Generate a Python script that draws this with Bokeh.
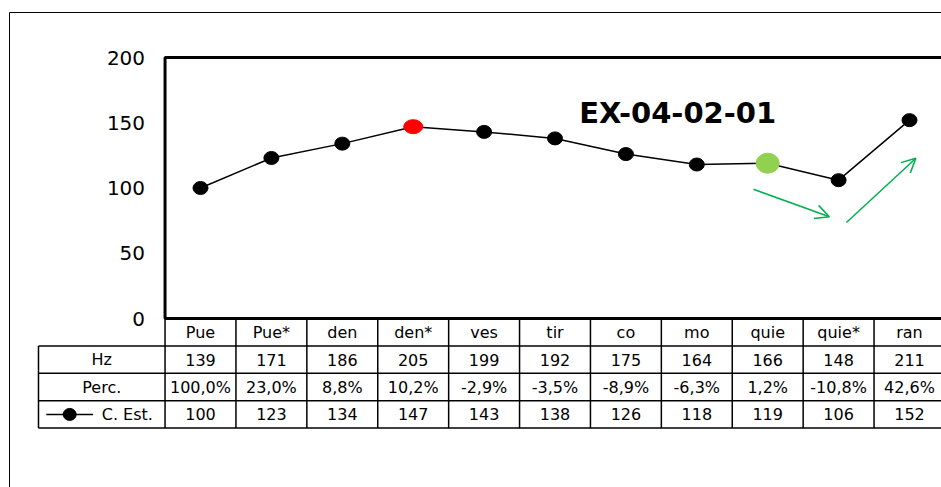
from bokeh.plotting import figure
from bokeh.models import Range1d, LinearAxis, FixedTicker, ColumnDataSource, Arrow, OpenHead
from bokeh.core.properties import value
from bokeh.embed import file_html
from bokeh.resources import INLINE

# ---------------- data ----------------
categories = ["Pue", "Pue*", "den", "den*", "ves", "tir", "co", "mo", "quie", "quie*", "ran"]
hz = [139, 171, 186, 205, 199, 192, 175, 164, 166, 148, 211]
perc = ["100,0%", "23,0%", "8,8%", "10,2%", "-2,9%", "-3,5%", "-8,9%", "-6,3%", "1,2%", "-10,8%", "42,6%"]
c_est = [100, 123, 134, 147, 143, 138, 126, 118, 119, 106, 152]
row_labels = ["Hz", "Perc.", "C. Est."]
y_ticks = [0, 50, 100, 150, 200]
title_text = "EX-04-02-01"
highlight_red = "den*"
highlight_green = "quie"
# trend arrows (start x, start y, end x, end y) in category/value units
arrow_down = (7.80, 99.0, 8.87, 78.0)
arrow_up = (9.11, 73.6, 10.09, 122.8)

# ---------------- layout ----------------
W, H = 941, 487
px_cat = 70.9          # px per category
px_val = 1.305         # px per value unit
first_center_px = 200  # frame x of first category center
zero_px = 318          # frame y of value 0
x0 = -first_center_px / px_cat
x1 = x0 + W / px_cat
ytop = zero_px / px_val
ybot = ytop - H / px_val

FONT = "DejaVu Sans"
n = len(categories)
idx = list(range(n))
row_h = 21.0
label_left = -2.285
right_edge = n + 1

p = figure(width=W, height=H, x_range=Range1d(x0, x1), y_range=Range1d(ybot, ytop),
           x_axis_type=None, y_axis_type=None, toolbar_location=None,
           output_backend="svg", min_border=0, outline_line_color=None,
           background_fill_color="white", border_fill_color="white")

# outer chart border (left and top edges; the rest lies beyond the window)
bx = x0 + 9 / px_cat
by = ytop - 12 / px_val
p.segment(x0=[bx, bx], y0=[by, by], x1=[bx, right_edge], y1=[ybot - 10, by],
          line_color="black", line_width=1)

# y axis at plot area left edge
yaxis = LinearAxis(fixed_location=-0.5, ticker=FixedTicker(ticks=y_ticks),
                   axis_line_color=None, major_tick_line_color=None, minor_tick_line_color=None,
                   major_tick_out=0, major_tick_in=0,
                   major_label_text_font=FONT, major_label_text_font_size="20px",
                   major_label_text_color="black", major_label_standoff=20)
p.add_layout(yaxis, "left")

# plot area frame
p.quad(left=[-0.5], right=[right_edge], bottom=[y_ticks[0]], top=[y_ticks[-1]],
       fill_color=None, line_color="black", line_width=3)

# table grid
hx0, hx1, hy = [], [], []
for r in range(1, len(row_labels) + 2):
    hx0.append(label_left); hx1.append(right_edge); hy.append(-r * row_h)
p.segment(x0=hx0, y0=hy, x1=hx1, y1=hy, line_color="black", line_width=1.5)
vx, vy0, vy1 = [label_left], [-row_h], [-(len(row_labels) + 1) * row_h]
for k in range(n + 1):
    vx.append(k - 0.5); vy0.append(0); vy1.append(-(len(row_labels) + 1) * row_h)
p.segment(x0=vx, y0=vy0, x1=vx, y1=vy1, line_color="black", line_width=1.5)

# table texts
tx, ty, tt = [], [], []
rows = [categories, [str(v) for v in hz], perc, [str(v) for v in c_est]]
for r, vals in enumerate(rows):
    for i, t in enumerate(vals):
        tx.append(i); ty.append(-(r + 0.5) * row_h); tt.append(t)
p.text(x=tx, y=ty, text=tt, text_align="center", text_baseline="middle",
       text_font=value(FONT), text_font_size="16px", text_color="black")

label_center = (label_left - 0.5) / 2
p.text(x=[label_center, label_center], y=[-1.5 * row_h, -2.5 * row_h], text=row_labels[:2],
       text_align="center", text_baseline="middle", text_font=value(FONT),
       text_font_size="16px", text_color="black")
p.text(x=[label_center + 0.36], y=[-3.5 * row_h], text=[row_labels[2]],
       text_align="center", text_baseline="middle", text_font=value(FONT),
       text_font_size="16px", text_color="black")
# legend symbol
p.line(x=[label_left + 0.11, label_left + 0.77], y=[-3.5 * row_h] * 2, line_color="black", line_width=1.5)
p.ellipse(x=[label_left + 0.44], y=[-3.5 * row_h], width=13, height=12,
          width_units="screen", height_units="screen", fill_color="black", line_color="black")

# series line and markers
p.line(x=idx, y=c_est, line_color="black", line_width=1.5)
colors, ws, hs = [], [], []
for c in categories:
    if c == highlight_red:
        colors.append("#FF0000"); ws.append(19); hs.append(14)
    elif c == highlight_green:
        colors.append("#92D050"); ws.append(23); hs.append(20)
    else:
        colors.append("black"); ws.append(15); hs.append(13)
src = ColumnDataSource(dict(x=idx, y=c_est, c=colors, w=ws, h=hs))
p.ellipse(x="x", y="y", width="w", height="h", width_units="screen", height_units="screen",
          fill_color="c", line_color="c", source=src)

# title inside plot
p.text(x=[6.73], y=[157.5], text=[title_text], text_align="center", text_baseline="middle",
       text_font=value(FONT), text_font_style="bold", text_font_size="29px", text_color="black")

# green trend arrows
green = "#00B050"
for (xs, ys, xe, ye) in (arrow_down, arrow_up):
    p.add_layout(Arrow(end=OpenHead(size=14, line_color=green, line_width=1.5),
                       x_start=xs, y_start=ys, x_end=xe, y_end=ye,
                       line_color=green, line_width=1.5))

open("out.html", "w").write(file_html(p, INLINE))
